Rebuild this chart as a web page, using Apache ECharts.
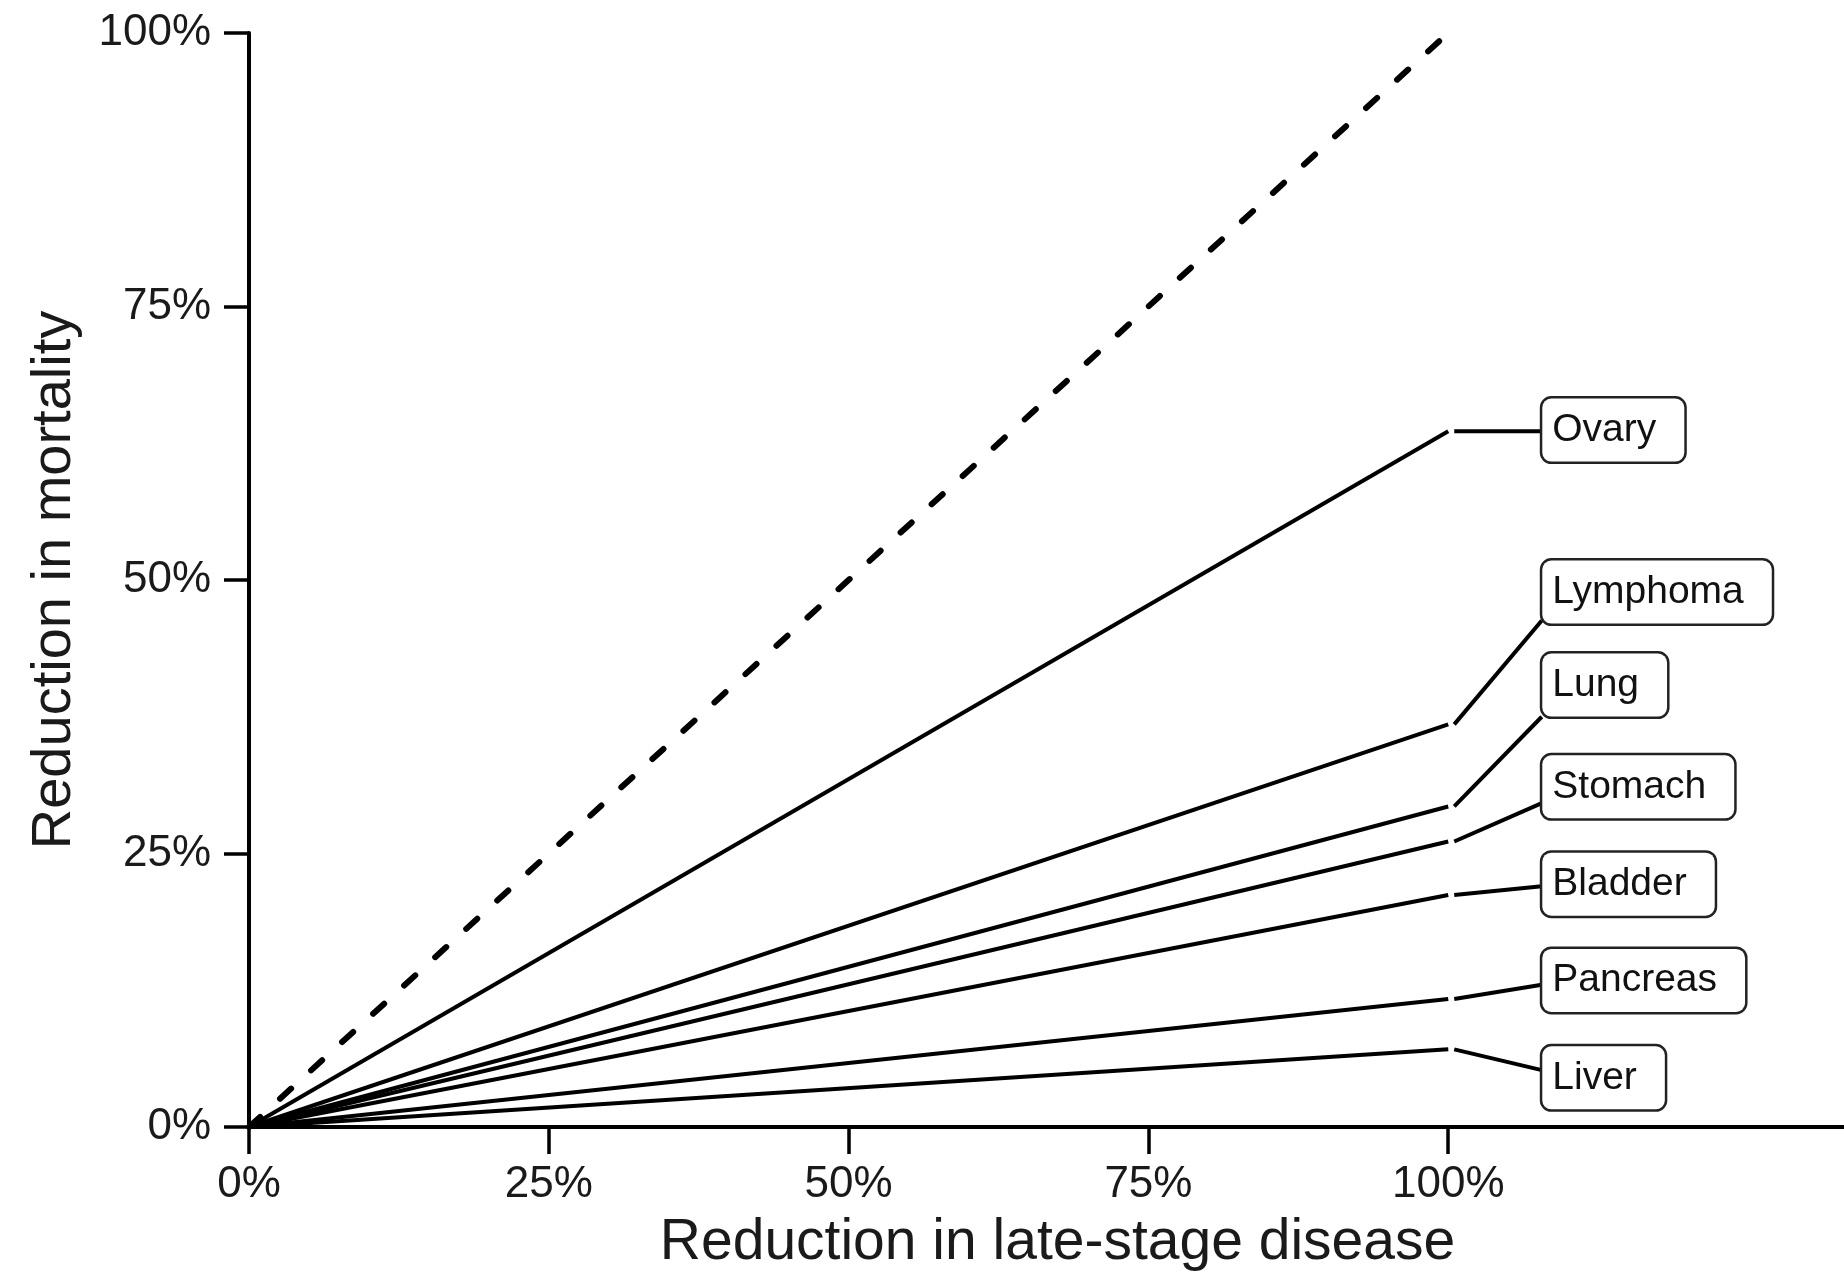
<!DOCTYPE html>
<html>
<head>
<meta charset="utf-8">
<script src="https://cdn.jsdelivr.net/npm/echarts@6/dist/echarts.min.js"></script>
<style>
  html, body { margin: 0; padding: 0; background: #ffffff; }
  #chart { width: 1844px; height: 1272px; }
</style>
</head>
<body>
<div id="chart"></div>
<script>
// ---- data ----
const cancers = ['Ovary', 'Lymphoma', 'Lung', 'Stomach', 'Bladder', 'Pancreas', 'Liver'];
// reduction in mortality at 100% reduction in late-stage disease
const mortalityAtFull = [0.636, 0.368, 0.293, 0.261, 0.212, 0.117, 0.071];
// vertical position of each label box (centre) and where its connector meets the box
const labelY = [0.637, 0.489, 0.404, 0.311, 0.222, 0.134, 0.045];
const connectorEndY = [0.636, 0.463, 0.375, 0.296, 0.220, 0.130, 0.052];
const xStart = 0, xFull = 1;
const labelX = 1.078;
const connectorStartX = 1.005;
const diagonal = [[0, 0], [1, 1]];
const xTicks = [0, 0.25, 0.5, 0.75, 1];
const yTicks = [0, 0.25, 0.5, 0.75, 1];

const pct = v => Math.round(v * 100) + '%';
const textColor = '#1a1a1a';
const font = 'Liberation Sans, Arial, sans-serif';

const series = [];
series.push({
  type: 'line', data: diagonal, symbol: 'none', silent: true,
  lineStyle: { color: '#000', width: 6, type: [15, 27], cap: 'round' }
});
cancers.forEach((c, i) => {
  series.push({
    type: 'line', name: c, symbol: 'none', silent: true,
    data: [[xStart, 0], [xFull, mortalityAtFull[i]]],
    lineStyle: { color: '#000', width: 4 }
  });
  series.push({
    type: 'line', symbol: 'none', silent: true,
    data: [[connectorStartX, mortalityAtFull[i]], [labelX, connectorEndY[i]]],
    lineStyle: { color: '#000', width: 4 }
  });
});
series.push({
  type: 'scatter', symbolSize: 1, silent: true,
  itemStyle: { color: '#ffffff', opacity: 0 },
  emphasis: { disabled: true },
  data: cancers.map((c, i) => ({ name: c, value: [labelX, labelY[i]] })),
  label: {
    show: true, position: 'right', distance: 0,
    formatter: p => p.name,
    fontFamily: font, fontSize: 39, color: '#111111', opacity: 1,
    textBorderWidth: 0, textShadowBlur: 0,
    lineHeight: 45,
    backgroundColor: '#ffffff',
    borderColor: '#222222', borderWidth: 2.5, borderRadius: 9,
    padding: [13, 28, 5, 10]
  },
  z: 10
});

const chart = echarts.init(document.getElementById('chart'), null, { renderer: 'canvas' });
chart.setOption({
  animation: false,
  backgroundColor: '#ffffff',
  grid: { left: 249, right: 0, top: 33, bottom: 145, containLabel: false, outerBoundsMode: 'none' },
  xAxis: {
    type: 'value', min: 0, max: 1.33, interval: 0.25,
    name: 'Reduction in late-stage disease', nameLocation: 'middle', nameGap: 88,
    nameTextStyle: { fontFamily: font, fontSize: 57, color: textColor, padding: [0, 0, 0, 22] },
    axisLine: { show: true, onZero: true, lineStyle: { color: '#000', width: 4 } },
    axisTick: { show: true, length: 27, customValues: xTicks, lineStyle: { color: '#000', width: 3.5 } },
    axisLabel: { customValues: xTicks, formatter: pct, margin: 36, fontFamily: font, fontSize: 44, color: textColor },
    splitLine: { show: false }
  },
  yAxis: {
    type: 'value', min: 0, max: 1, interval: 0.25,
    name: 'Reduction in mortality', nameLocation: 'middle', nameGap: 166, nameRotate: 90,
    nameTextStyle: { fontFamily: font, fontSize: 56, color: textColor },
    axisLine: { show: true, onZero: false, lineStyle: { color: '#000', width: 4 } },
    axisTick: { show: true, length: 25, customValues: yTicks, lineStyle: { color: '#000', width: 3.5 } },
    axisLabel: { customValues: yTicks, formatter: pct, margin: 38, fontFamily: font, fontSize: 44, color: textColor },
    splitLine: { show: false }
  },
  series: series
});
</script>
</body>
</html>
